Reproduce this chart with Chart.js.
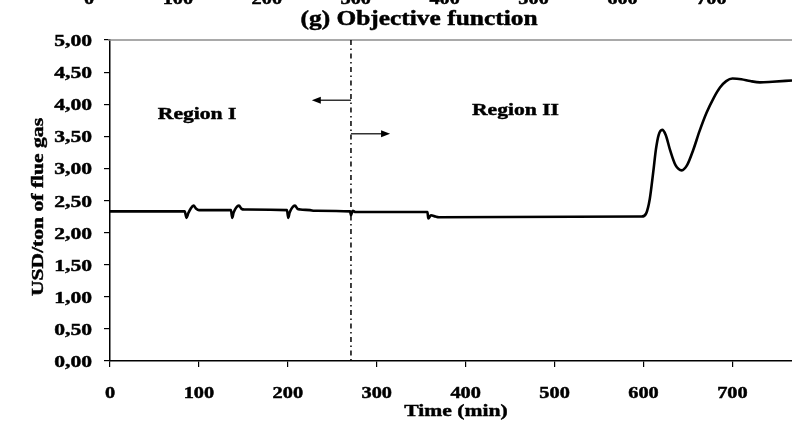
<!DOCTYPE html>
<html>
<head>
<meta charset="utf-8">
<script src="https://cdn.jsdelivr.net/npm/chart.js@4.4.1/dist/chart.umd.min.js"></script>
<style>
  html, body { margin: 0; padding: 0; background: #fff; }
  #wrap { width: 792px; height: 421px; }
</style>
</head>
<body>
<div id="wrap"><canvas id="objChart" width="792" height="421"></canvas></div>
<script>
// (g) Objective function - cout en USD/ton de gaz de combustion

const timeMin = [0, 84, 86, 88, 91, 94, 97, 100, 136, 137.5, 139, 142, 145, 148, 151, 199, 200.5, 202, 205, 208, 211, 214, 225, 230, 270, 271, 273, 276, 357, 358, 361, 366, 370, 598, 603, 607, 611, 614, 617, 621, 625, 630, 636, 643, 649, 656, 663, 671, 679, 686, 693, 700, 710, 720, 731, 745, 767];
const costValues = [2.33, 2.33, 2.23, 2.30, 2.38, 2.42, 2.37, 2.35, 2.35, 2.23, 2.31, 2.39, 2.42, 2.37, 2.36, 2.35, 2.23, 2.31, 2.39, 2.42, 2.37, 2.36, 2.35, 2.34, 2.33, 2.27, 2.34, 2.32, 2.32, 2.22, 2.27, 2.25, 2.24, 2.25, 2.30, 2.52, 2.95, 3.30, 3.52, 3.60, 3.52, 3.28, 3.05, 2.97, 3.05, 3.29, 3.58, 3.87, 4.10, 4.26, 4.36, 4.40, 4.39, 4.36, 4.34, 4.35, 4.37];

const xTicks = [0, 100, 200, 300, 400, 500, 600, 700];
const yTicks = [0, 0.5, 1, 1.5, 2, 2.5, 3, 3.5, 4, 4.5, 5];

const boundaryTime = 271;
const regionLabels = ['Region I', 'Region II'];
const regionTimes = [98, 456];
const regionValues = [3.87, 3.92];
const arrowValues = [4.06, 3.54];
const arrowEnds = [227, 315];

const titleText = '(g) Objective function';
const xTitle = 'Time (min)';
const yTitle = 'USD/ton of flue gas';

const serif = '"Liberation Serif", "Times New Roman", serif';
const SX = 1.27; // police large comme dans l'original

function wideText(ctx, text, x, y, size, align, rot) {
  ctx.save();
  ctx.translate(x, y);
  if (rot) ctx.rotate(rot);
  ctx.scale(SX, 1);
  ctx.font = 'bold ' + size + 'px ' + serif;
  ctx.textAlign = align;
  ctx.textBaseline = 'alphabetic';
  ctx.fillStyle = '#000';
  ctx.strokeStyle = '#000';
  ctx.lineWidth = 0.45;
  ctx.fillText(text, 0, 0);
  ctx.strokeText(text, 0, 0);
  ctx.restore();
}

const decorPlugin = {
  id: 'decor',
  beforeDatasetsDraw(chart) {
    const ctx = chart.ctx;
    const area = chart.chartArea;
    const xs = chart.scales.x;
    const ys = chart.scales.y;

    // cadre du haut (gris)
    ctx.save();
    ctx.strokeStyle = '#8c8c8c';
    ctx.lineWidth = 1.5;
    ctx.beginPath();
    ctx.moveTo(area.left - 2, area.top);
    ctx.lineTo(area.right, area.top);
    ctx.stroke();

    // ligne mixte de separation des regions
    const bx = xs.getPixelForValue(boundaryTime);
    ctx.strokeStyle = '#000';
    ctx.lineWidth = 1.5;
    ctx.setLineDash([5, 3.5, 1.5, 3.5]);
    ctx.beginPath();
    ctx.moveTo(bx, area.top);
    ctx.lineTo(bx, area.bottom);
    ctx.stroke();
    ctx.setLineDash([]);

    // fleches
    arrowValues.forEach((v, i) => {
      const y = ys.getPixelForValue(v);
      const ex = xs.getPixelForValue(arrowEnds[i]);
      const dir = ex < bx ? -1 : 1;
      ctx.strokeStyle = '#333';
      ctx.lineWidth = 1.5;
      ctx.beginPath();
      ctx.moveTo(bx, y);
      ctx.lineTo(ex - dir * 6, y);
      ctx.stroke();
      ctx.fillStyle = '#000';
      ctx.beginPath();
      ctx.moveTo(ex, y);
      ctx.lineTo(ex - dir * 9, y - 3.5);
      ctx.lineTo(ex - dir * 9, y + 3.5);
      ctx.closePath();
      ctx.fill();
    });
    ctx.restore();
  },
  afterDraw(chart) {
    const ctx = chart.ctx;
    const xs = chart.scales.x;
    const ys = chart.scales.y;

    // restes des etiquettes du graphique precedent (coupees en haut)
    xTicks.forEach(t => wideText(ctx, String(t), xs.getPixelForValue(t) - 21, 3.5, 16, 'center'));

    wideText(ctx, titleText, 419, 25, 20, 'center');

    yTicks.forEach(v => {
      wideText(ctx, v.toFixed(2).replace('.', ','), 92, ys.getPixelForValue(v) + 6, 17, 'right');
    });
    xTicks.forEach(t => {
      wideText(ctx, String(t), xs.getPixelForValue(t), 398, 16, 'center');
    });

    wideText(ctx, xTitle, 456, 416, 17, 'center');
    wideText(ctx, yTitle, 43, 207, 17, 'center', -Math.PI / 2);

    regionLabels.forEach((lab, i) => {
      wideText(ctx, lab, xs.getPixelForValue(regionTimes[i]),
        ys.getPixelForValue(regionValues[i]) + 6, 17, 'center');
    });
  }
};

new Chart(document.getElementById('objChart'), {
  type: 'line',
  data: {
    datasets: [{
      data: timeMin.map((t, i) => ({ x: t, y: costValues[i] })),
      borderColor: '#000',
      borderWidth: 2.6,
      pointRadius: 0,
      fill: false,
      cubicInterpolationMode: 'monotone'
    }]
  },
  options: {
    responsive: false,
    animation: false,
    devicePixelRatio: 1,
    layout: { padding: { top: 40, right: 0, left: 0, bottom: 0 } },
    scales: {
      x: {
        type: 'linear',
        min: 0,
        max: 767,
        afterFit: s => { s.height = 60; },
        ticks: { display: false, stepSize: 100, includeBounds: false },
        grid: { display: true, drawOnChartArea: false, drawTicks: true, tickLength: 6, color: '#000', lineWidth: 1.2 },
        border: { display: true, color: '#000', width: 1.5 }
      },
      y: {
        min: 0,
        max: 5,
        afterFit: s => { s.width = 110; },
        ticks: { display: false, stepSize: 0.5 },
        grid: { display: true, drawOnChartArea: false, drawTicks: true, tickLength: 6, color: '#000', lineWidth: 1.2 },
        border: { display: true, color: '#000', width: 1.5 }
      }
    },
    plugins: {
      legend: { display: false },
      tooltip: { enabled: false }
    }
  },
  plugins: [decorPlugin]
});
</script>
</body>
</html>
